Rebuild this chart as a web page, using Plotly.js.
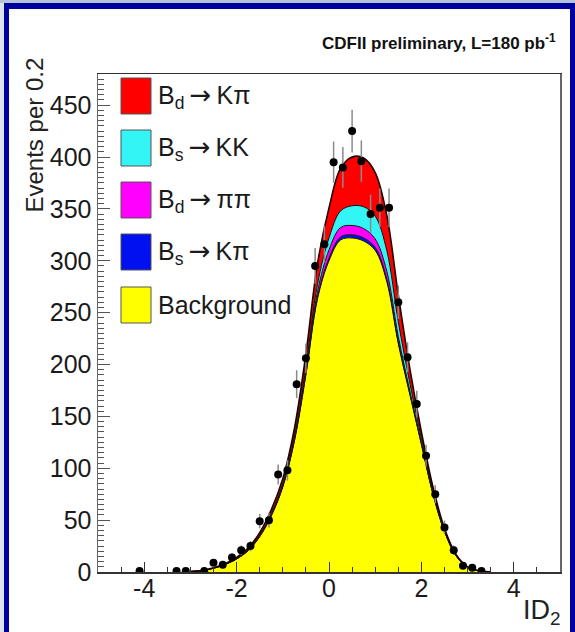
<!DOCTYPE html>
<html>
<head>
<meta charset="utf-8">
<script src="https://cdn.plot.ly/plotly-3.0.1.min.js"></script>
<style>
  html, body { margin: 0; padding: 0; background: #ffffff; }
  #wrap { position: relative; width: 575px; height: 632px; overflow: hidden; background: #ffffff; }
  .band { position: absolute; }
  #plot { position: absolute; left: 0; top: 0; width: 575px; height: 632px; }
</style>
</head>
<body>
<div id="wrap">
  <div class="band" style="left:0;top:0;width:575px;height:3px;background:#b4c3d6;"></div>
  <div class="band" style="left:0;top:3px;width:575px;height:6px;background:#0000a0;"></div>
  <div class="band" style="left:0;top:3px;width:4px;height:629px;background:#dde4ee;"></div>
  <div class="band" style="left:4px;top:3px;width:5px;height:629px;background:#0000a0;"></div>
  <div class="band" style="left:570px;top:3px;width:5px;height:629px;background:#0000a0;"></div>
  <div id="plot"></div>
</div>
<script>
// ---- fit curves (events per 0.2) ----
const xCurve     = [-3, -2.75, -2.5, -2.25, -2, -1.75, -1.5, -1.25, -1, -0.75, -0.5, -0.25, 0, 0.25, 0.5, 0.75, 1, 1.25, 1.5, 1.75, 2, 2.25, 2.5, 2.75, 3, 3.25, 3.5];
const background = [0.5, 1.3, 3.6, 7.2, 12.5, 20.5, 34, 54, 82, 126, 190, 263, 300, 320, 322, 319, 310, 280, 220, 171, 123, 75, 39, 15.5, 4.6, 1.1, 0.2];
const bsKpi      = [0, 0, 0.01, 0.03, 0.05, 0.1, 0.2, 0.3, 0.3, 0.5, 1, 1.5, 2.5, 3, 3, 3, 3, 2.5, 2, 1, 0.5, 0.3, 0.1, 0.05, 0, 0, 0];
const bdPipi     = [0, 0.03, 0.05, 0.12, 0.25, 0.4, 0.6, 0.9, 1.2, 1.8, 3, 5.5, 8, 9, 9, 9, 8, 7.5, 5, 2.5, 1.2, 0.7, 0.3, 0.15, 0.05, 0, 0];
const bsKK       = [0, 0.02, 0.04, 0.1, 0.2, 0.4, 0.7, 1.1, 1.5, 2.3, 4, 7, 11.5, 16, 19, 21, 22, 20, 14, 7.5, 3.8, 2.2, 1, 0.5, 0.15, 0.05, 0];
const bdKpi      = [0, 0.15, 0.3, 0.55, 1.0, 1.6, 2.5, 3.7, 5, 7.4, 12, 20, 29, 41, 47, 47, 42, 34, 26, 14, 6.5, 3.8, 1.6, 0.8, 0.2, 0.05, 0];

// ---- data points ----
const xData = [-4.1, -3.3, -3.1, -2.7, -2.5, -2.3, -2.1, -1.9, -1.7, -1.5, -1.3, -1.1, -0.9, -0.7, -0.5, -0.3, -0.1, 0.1, 0.3, 0.5, 0.7, 0.9, 1.1, 1.3, 1.5, 1.7, 1.9, 2.1, 2.3, 2.5, 2.7, 2.9, 3.1, 3.3];
const yData = [1, 1, 1, 1, 9, 7, 14, 21, 25, 49, 50, 94, 98, 181, 206, 295, 316, 395, 390, 425, 396, 345, 351, 351, 260, 207, 162, 112, 75, 43, 21, 6, 4, 1];

// ---- components (bottom to top of the stack) ----
const ARROW = '<span style="font-family:DejaVu Sans;font-size:26px">\u2009\u2192\u2009</span>';
const compNames  = ['Background', 'B<sub>s</sub>' + ARROW + 'K\u03c0', 'B<sub>d</sub>' + ARROW + '\u03c0\u03c0', 'B<sub>s</sub>' + ARROW + 'KK', 'B<sub>d</sub>' + ARROW + 'K\u03c0'];
const compValues = [background, bsKpi, bdPipi, bsKK, bdKpi];
const compColors = ['#ffff00', '#0010f0', '#ff00ff', '#33f5f5', '#ff0000'];

// legend order (top to bottom)
const legendOrder = [4, 3, 2, 1, 0];

const xTickVals = [-4, -2, 0, 2, 4];
const yTickVals = [0, 50, 100, 150, 200, 250, 300, 350, 400, 450];

const FONT = 'Liberation Sans, Arial, Helvetica, sans-serif';

const traces = compValues.map((vals, i) => ({
  type: 'scatter',
  mode: 'lines',
  x: xCurve,
  y: vals,
  stackgroup: 'fit',
  fill: 'tonexty',
  fillcolor: compColors[i],
  line: { color: i === compValues.length - 1 ? '#200000' : '#111111', width: i === compValues.length - 1 ? 1.6 : 1, shape: 'spline', smoothing: 1 },
  hoverinfo: 'skip',
  showlegend: false
}));

traces.push({
  type: 'scatter',
  mode: 'markers',
  x: xData,
  y: yData,
  marker: { color: '#000000', size: 8 },
  error_y: { type: 'sqrt', visible: true, color: '#8a8a8a', thickness: 1.5, width: 0 },
  hoverinfo: 'skip',
  showlegend: false
});

// plot area geometry (pixels)
const L = 98, R = 560, T = 74, B = 572;
const W = R - L, H = B - T;
const px = x => (x - L) / W;
const py = y => (B - y) / H;

const shapes = [];
const annotations = [];
const boxTops = [78, 130, 182, 234, 287];
const boxH = 36;
legendOrder.forEach((ci, k) => {
  const top = boxTops[k];
  shapes.push({
    type: 'rect', xref: 'paper', yref: 'paper',
    x0: px(121), x1: px(151), y0: py(top + boxH), y1: py(top),
    fillcolor: compColors[ci], line: { color: '#555555', width: 1 }
  });
  annotations.push({
    xref: 'paper', yref: 'paper', x: px(156), y: py(top + boxH / 2),
    xanchor: 'left', yanchor: 'middle', showarrow: false,
    text: compNames[ci], font: { family: FONT, size: 25, color: '#1a1a1a' }
  });
});

annotations.push({
  xref: 'paper', yref: 'paper', x: px(558), y: py(42),
  xanchor: 'right', yanchor: 'middle', showarrow: false,
  text: '<b>CDFII preliminary, L=180 pb<sup>-1</sup></b>',
  font: { family: FONT, size: 17, color: '#111111' }
});
annotations.push({
  xref: 'paper', yref: 'paper', x: px(34), y: py(215),
  xanchor: 'center', yanchor: 'bottom', showarrow: false, textangle: -90,
  text: 'Events per 0.2',
  font: { family: FONT, size: 24, color: '#222222' }
});
annotations.push({
  xref: 'paper', yref: 'paper', x: px(521), y: py(612),
  xanchor: 'left', yanchor: 'middle', showarrow: false,
  text: 'ID<sub>2</sub>',
  font: { family: FONT, size: 27, color: '#222222' }
});

const layout = {
  width: 575, height: 632,
  margin: { l: L, r: 575 - R, t: T, b: 632 - B, pad: 0 },
  paper_bgcolor: 'rgba(0,0,0,0)',
  plot_bgcolor: '#ffffff',
  showlegend: false,
  hovermode: false,
  xaxis: {
    range: [-5, 5], tickvals: xTickVals, ticktext: xTickVals.map(String),
    ticks: 'inside', ticklen: 10, tickwidth: 1, tickcolor: '#333333',
    minor: { dtick: 0.5, tick0: 0, ticks: 'inside', ticklen: 5, tickwidth: 1, tickcolor: '#333333' },
    showline: true, linecolor: '#333333', linewidth: 1.5, mirror: true,
    showgrid: false, zeroline: false,
    tickfont: { family: FONT, size: 25, color: '#1a1a1a' },
    ticklabelstandoff: -7
  },
  yaxis: {
    range: [0, 480], tickvals: yTickVals, ticktext: yTickVals.map(String),
    ticks: 'inside', ticklen: 12, tickwidth: 1, tickcolor: '#555555',
    minor: { dtick: 5, tick0: 0, ticks: 'inside', ticklen: 6, tickwidth: 1, tickcolor: '#555555' },
    showline: true, linecolor: '#666666', linewidth: 1.5, mirror: true,
    showgrid: false, zeroline: false,
    tickfont: { family: FONT, size: 25, color: '#1a1a1a' },
    ticklabelstandoff: 0
  },
  shapes: shapes,
  annotations: annotations
};

Plotly.newPlot('plot', traces, layout, { staticPlot: true, displayModeBar: false });
</script>
</body>
</html>
